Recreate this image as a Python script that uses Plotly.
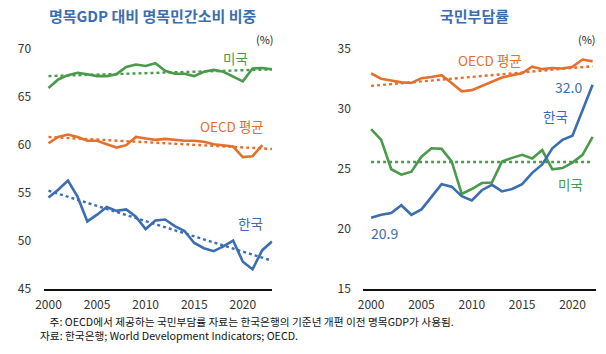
import plotly.graph_objects as go

years_l = list(range(2000, 2024))
korea_pc = [54.5, 55.3, 56.25, 54.55, 52.0, 52.7, 53.5, 53.1, 53.25, 52.5, 51.2, 52.1,
            52.2, 51.5, 51.0, 49.75, 49.2, 48.9, 49.4, 50.0, 47.8, 47.0, 49.0, 49.9]
us_pc = [65.9, 66.8, 67.25, 67.5, 67.35, 67.15, 67.15, 67.35, 68.1, 68.35, 68.2, 68.5,
         67.7, 67.4, 67.4, 67.15, 67.6, 67.8, 67.6, 67.1, 66.6, 67.95, 68.0, 67.85]
oecd_pc = [60.15, 60.8, 61.05, 60.8, 60.4, 60.4, 60.05, 59.7, 59.95, 60.8, 60.65, 60.5,
           60.6, 60.5, 60.4, 60.4, 60.3, 60.05, 59.95, 59.8, 58.7, 58.8, 59.95]
trend_years_l = [2000, 2023]
korea_pc_trend = [55.2, 47.9]
us_pc_trend = [67.15, 67.85]
oecd_pc_trend = [60.8, 59.55]

years_r = list(range(2000, 2023))
korea_tb = [20.9, 21.15, 21.3, 21.95, 21.15, 21.6, 22.65, 23.7, 23.5, 22.7, 22.35, 23.2,
            23.65, 23.1, 23.3, 23.7, 24.65, 25.35, 26.7, 27.4, 27.75, 29.95, 32.0]
us_tb = [28.3, 27.4, 24.95, 24.5, 24.75, 26.0, 26.7, 26.65, 25.6, 22.9, 23.3, 23.8,
         23.85, 25.6, 25.9, 26.15, 25.85, 26.55, 24.95, 25.05, 25.5, 26.15, 27.65]
oecd_tb = [32.95, 32.5, 32.35, 32.2, 32.15, 32.55, 32.65, 32.8, 32.15, 31.45, 31.55, 31.9,
           32.25, 32.6, 32.8, 32.95, 33.5, 33.3, 33.4, 33.35, 33.5, 34.1, 33.95]
trend_years_r = [2000, 2022]
us_tb_trend = [25.55, 25.55]
oecd_tb_trend = [31.9, 33.55]

x_ticks = [2000, 2005, 2010, 2015, 2020]
yl_ticks = [45, 50, 55, 60, 65, 70]
yr_ticks = [15, 20, 25, 30, 35]

BLUE = "#3c6db0"
ORANGE = "#e4702e"
GREEN = "#4b9a4c"
FONT = "Noto Sans CJK KR"

W, H = 606, 354
fig = go.Figure()

def line(x, y, color, xa, ya, dash=None):
    fig.add_trace(go.Scatter(x=x, y=y, mode="lines", xaxis=xa, yaxis=ya,
                             line=dict(color=color, width=2.6 if dash is None else 2.4,
                                       dash=dash or "solid"),
                             showlegend=False, hoverinfo="skip"))

# left
line(trend_years_l, us_pc_trend, GREEN, "x", "y", "dot")
line(trend_years_l, oecd_pc_trend, ORANGE, "x", "y", "dot")
line(trend_years_l, korea_pc_trend, BLUE, "x", "y", "dot")
line(years_l, us_pc, GREEN, "x", "y")
line(years_l[:len(oecd_pc)], oecd_pc, ORANGE, "x", "y")
line(years_l, korea_pc, BLUE, "x", "y")
# right
line(trend_years_r, us_tb_trend, GREEN, "x2", "y2", "dot")
line(trend_years_r, oecd_tb_trend, ORANGE, "x2", "y2", "dot")
line(years_r, oecd_tb, ORANGE, "x2", "y2")
line(years_r, us_tb, GREEN, "x2", "y2")
line(years_r, korea_tb, BLUE, "x2", "y2")

ybot = 1 - 294 / H
ytop = 1 - 40 / H
tickfont = dict(family=FONT, size=12, color="#333333")

xcommon = dict(tickvals=x_ticks, showgrid=False, zeroline=False, showline=True,
               linecolor="#111111", linewidth=1.5, ticks="outside", ticklen=4,
               tickcolor="rgba(0,0,0,0)", tickfont=tickfont)
ycommon = dict(showgrid=False, zeroline=False, showline=False, ticks="outside",
               ticklen=9, tickcolor="rgba(0,0,0,0)", tickfont=tickfont)

fig.update_layout(
    width=W, height=H, margin=dict(l=0, r=0, t=0, b=0),
    paper_bgcolor="white", plot_bgcolor="white",
    font=dict(family=FONT),
    xaxis=dict(domain=[36 / W, 268 / W], range=[1999.49, 2023.05], anchor="y", **xcommon),
    yaxis=dict(domain=[ybot, ytop], range=[45, 70.81], tickvals=yl_ticks, anchor="x", **ycommon),
    xaxis2=dict(domain=[360 / W, 596 / W], range=[1999.22, 2022.35], anchor="y2", **xcommon),
    yaxis2=dict(domain=[ybot, ytop], range=[15, 35.65], tickvals=yr_ticks, anchor="x2", **ycommon),
)

def ann(text, x, y, color, size=13, bold=False, xanchor="center", align="center"):
    fig.add_annotation(text=f"<b>{text}</b>" if bold else text, x=x, y=y, xref="paper", yref="paper",
                       showarrow=False, xanchor=xanchor, yanchor="middle", borderpad=0,
                       align=align, font=dict(family=FONT, size=size, color=color))

def px(xp, yp):
    return xp / W, 1 - yp / H

# titles
ann("명목GDP 대비 명목민간소비 비중", *px(146, 14), BLUE, size=15, bold=True)
ann("국민부담률", *px(473, 14), BLUE, size=15, bold=True)
ann("(%)", *px(260, 38), "#222222", size=11)
ann("(%)", *px(587, 38), "#222222", size=11)

# series labels
ann("미국", *px(231, 57), GREEN, size=13.5)
ann("OECD 평균", *px(227, 127), ORANGE, size=13.5)
ann("한국", *px(246, 227), BLUE, size=13.5)
ann("OECD 평균", *px(488, 60), ORANGE, size=13.5)
ann("32.0", *px(568, 87), BLUE, size=14)
ann("한국", *px(555, 117), BLUE, size=13.5)
ann("20.9", *px(382, 237), BLUE, size=14)
ann("미국", *px(570, 187), GREEN, size=13.5)

# footnotes (one block, two lines)
ann("&nbsp;&nbsp;&nbsp;&nbsp;주: OECD에서 제공하는 국민부담률 자료는 한국은행의 기준년 개편 이전 명목GDP가 사용됨."
    "<br>자료: 한국은행; World Development Indicators; OECD.",
    *px(31, 335.5), "#111111", size=10.7, xanchor="left", align="left")

fig.write_html("out.html")
